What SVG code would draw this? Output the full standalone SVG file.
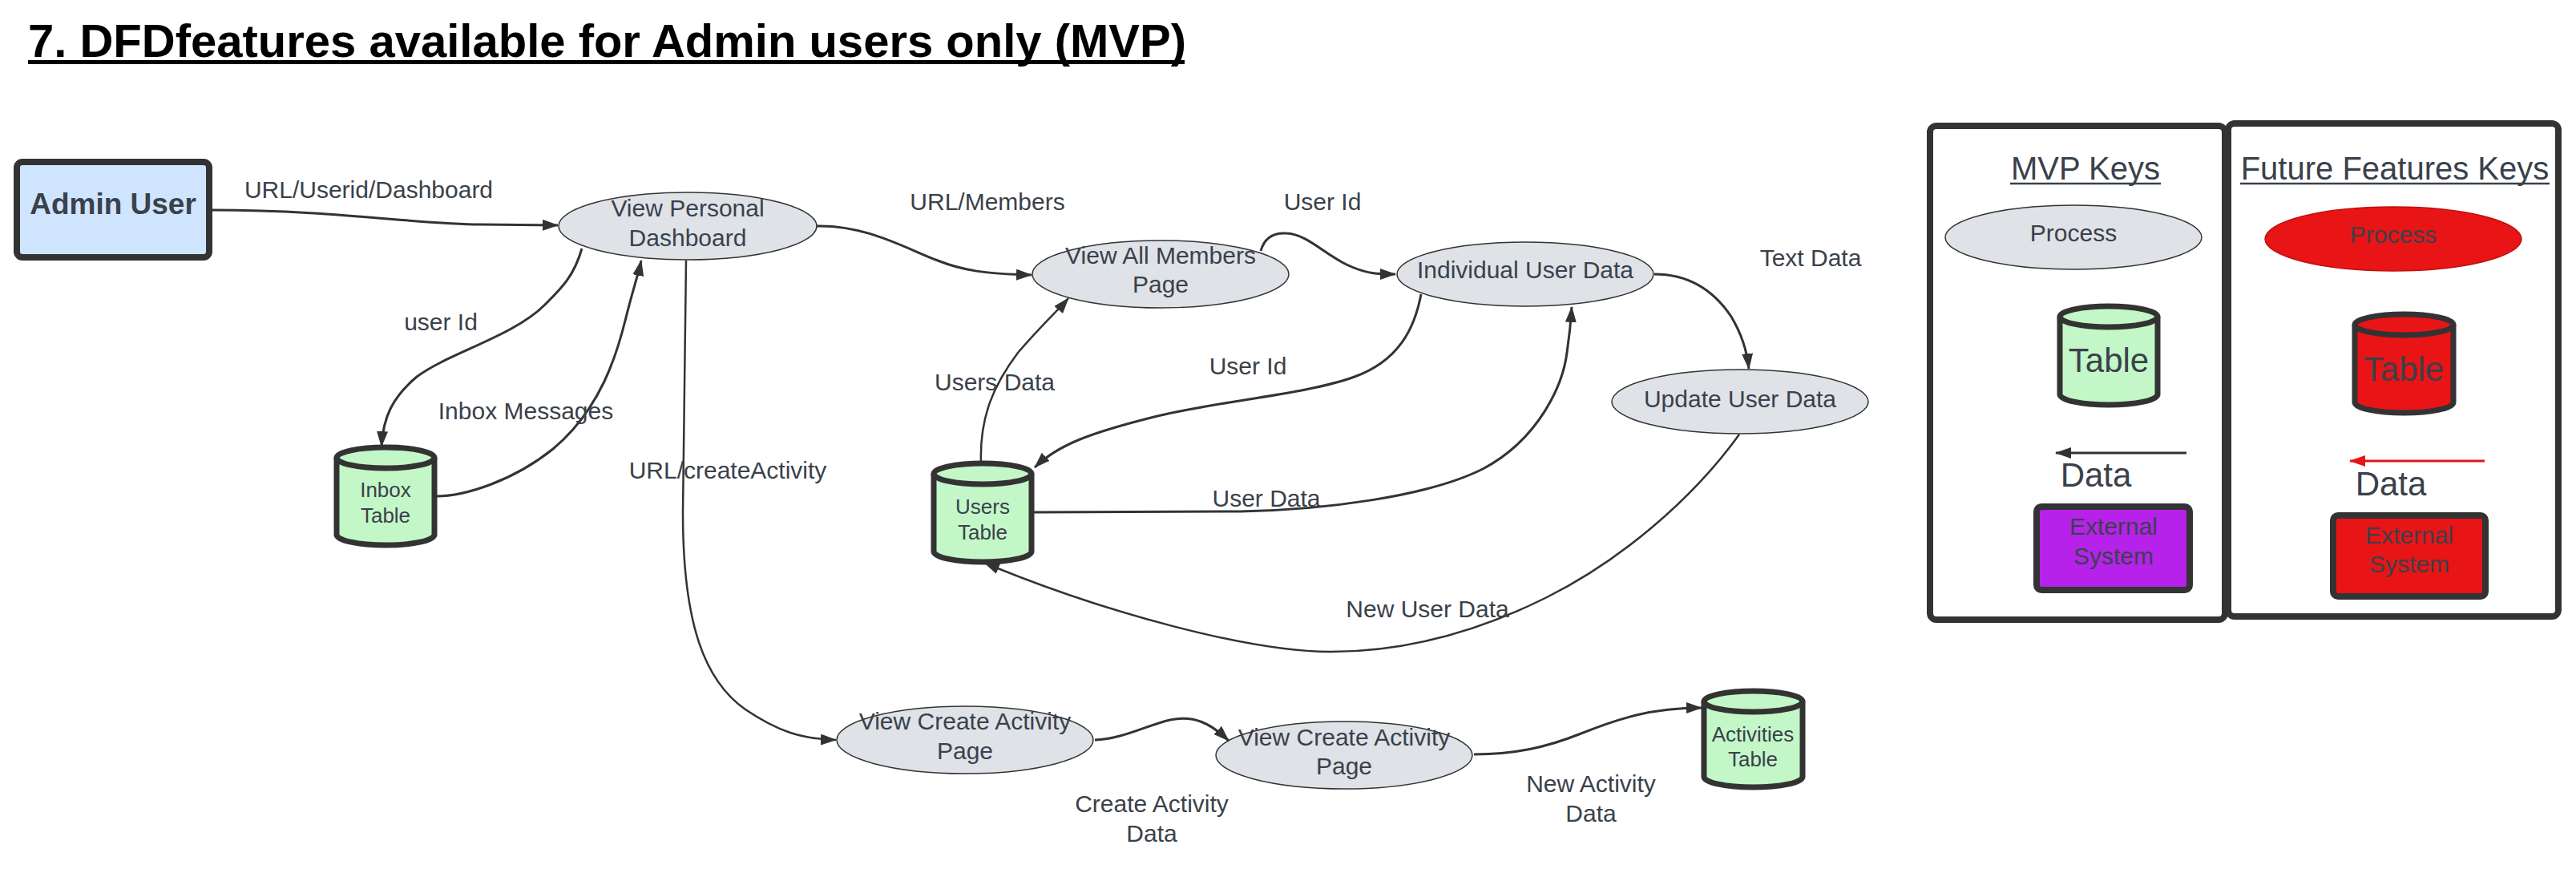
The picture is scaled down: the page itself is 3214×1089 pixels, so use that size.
<svg xmlns="http://www.w3.org/2000/svg" width="3214" height="1089" viewBox="0 0 3214 1089">
<style>
  text { font-family: "Liberation Sans", Arial, sans-serif; fill: #3a414a; }
  .lbl { font-size: 30px; text-anchor: middle; }
  .node { font-size: 30px; text-anchor: middle; }
  .cyl-t { font-size: 26px; text-anchor: middle; }
  .proc { fill: #dfe2e7; stroke: #333333; stroke-width: 1.5; }
  .cyl { fill: #c3f7c8; stroke: #333333; stroke-width: 7; }
  .edge { fill: none; stroke: #333333; stroke-width: 3; marker-end: url(#arr); }
  .key { fill: none; stroke: #333333; stroke-width: 8; }
</style>
<defs>
  <marker id="arr" viewBox="0 0 20 14" refX="19" refY="7" markerWidth="20" markerHeight="14" markerUnits="userSpaceOnUse" orient="auto">
    <path d="M0,0 L20,7 L0,14 z" fill="#333333"/>
  </marker>
  <marker id="arrRed" viewBox="0 0 20 14" refX="19" refY="7" markerWidth="20" markerHeight="14" markerUnits="userSpaceOnUse" orient="auto">
    <path d="M0,0 L20,7 L0,14 z" fill="#e81416"/>
  </marker>
</defs>
<rect width="3214" height="1089" fill="#ffffff"/>

<g id="title">
  <text x="35" y="71" style="font-size:58px;font-weight:bold;fill:#000000">7. DFDfeatures available for Admin users only (MVP)</text>
  <line x1="35" y1="77.5" x2="1478" y2="77.5" stroke="#000000" stroke-width="5"/>
</g>

<g id="connectors">
  <path class="edge" d="M265,262 C420,262 520,280 600,280 L696,281"/>
  <path class="edge" d="M726,310 C716,345 700,360 680,380 C640,420 560,440 520,470 C490,495 478,520 476,557"/>
  <path class="edge" d="M544,619 C580,619 640,600 690,560 C750,510 770,440 780,400 C790,360 797,340 800,325"/>
  <path class="edge" style="stroke-width:2.5" d="M856,325 L852,640 C852,780 880,850 930,885 C970,912 1000,922 1043,923"/>
  <path class="edge" d="M1018,282 C1080,280 1130,310 1170,325 C1200,337 1230,342 1287,343"/>
  <path class="edge" d="M1573,313 C1578,295 1590,290 1605,291 C1630,292 1650,315 1680,330 C1705,342 1720,342 1741,342"/>
  <path class="edge" d="M1773,367 C1765,410 1745,450 1690,470 C1630,492 1520,500 1440,520 C1360,540 1320,555 1291,583"/>
  <path class="edge" d="M1289,639 L1548,638 C1650,636 1780,620 1850,585 C1920,548 1950,480 1955,440 C1958,420 1960,400 1961,383"/>
  <path class="edge" d="M2064,342 C2110,342 2140,365 2160,395 C2175,420 2180,440 2182,460"/>
  <path class="edge" style="stroke-width:2.5" d="M2170,542 C2110,625 2020,700 1930,745 C1850,785 1760,813 1660,813 C1560,813 1380,765 1228,702"/>
  <path class="edge" style="stroke-width:2.5" d="M1224,577 C1222,520 1240,480 1270,440 C1300,405 1322,385 1333,372"/>
  <path class="edge" d="M1366,923 C1400,922 1430,905 1460,898 C1490,892 1510,902 1533,924"/>
  <path class="edge" d="M1839,941 C1890,941 1930,932 1970,916 C2020,896 2060,883 2123,883"/>
</g>

<g id="edge-labels">
  <text class="lbl" x="460" y="247">URL/Userid/Dashboard</text>
  <text class="lbl" x="550" y="412">user Id</text>
  <text class="lbl" x="656" y="523">Inbox Messages</text>
  <text class="lbl" x="908" y="597">URL/createActivity</text>
  <text class="lbl" x="1232" y="262">URL/Members</text>
  <text class="lbl" x="1650" y="262">User Id</text>
  <text class="lbl" x="2259" y="332">Text Data</text>
  <text class="lbl" x="1557" y="467">User Id</text>
  <text class="lbl" x="1241" y="487">Users Data</text>
  <text class="lbl" x="1580" y="632">User Data</text>
  <text class="lbl" x="1781" y="770">New User Data</text>
  <text class="lbl" x="1437" y="1013">Create Activity</text>
  <text class="lbl" x="1437" y="1050">Data</text>
  <text class="lbl" x="1985" y="988">New Activity</text>
  <text class="lbl" x="1985" y="1025">Data</text>
</g>

<g id="admin-user">
  <rect x="21" y="202" width="240" height="119" rx="7" fill="#cfe4ff" stroke="#333333" stroke-width="8"/>
  <text x="141" y="267" style="font-size:37px;font-weight:bold;text-anchor:middle">Admin User</text>
</g>

<g id="view-personal-dashboard">
  <ellipse class="proc" cx="858" cy="282" rx="161" ry="42"/>
  <text class="node" x="858" y="270">View Personal</text>
  <text class="node" x="858" y="307">Dashboard</text>
</g>

<g id="view-all-members">
  <ellipse class="proc" cx="1448" cy="342" rx="160" ry="42"/>
  <text class="node" x="1448" y="329">View All Members</text>
  <text class="node" x="1448" y="365">Page</text>
</g>

<g id="individual-user-data">
  <ellipse class="proc" cx="1903" cy="342" rx="160" ry="40"/>
  <text class="node" x="1903" y="347">Individual User Data</text>
</g>

<g id="update-user-data">
  <ellipse class="proc" cx="2171" cy="501" rx="160" ry="40"/>
  <text class="node" x="2171" y="508">Update User Data</text>
</g>

<g id="view-create-activity-1">
  <ellipse class="proc" cx="1204" cy="923" rx="160" ry="42"/>
  <text class="node" x="1204" y="910">View Create Activity</text>
  <text class="node" x="1204" y="947">Page</text>
</g>

<g id="view-create-activity-2">
  <ellipse class="proc" cx="1677" cy="942" rx="160" ry="42"/>
  <text class="node" x="1677" y="930">View Create Activity</text>
  <text class="node" x="1677" y="966">Page</text>
</g>

<g id="inbox-table">
  <path class="cyl" d="M420,571 A61,13 0 0 1 542,571 L542,667 A61,13 0 0 1 420,667 Z"/>
  <path class="cyl" style="fill:none" d="M420,571 A61,13 0 0 0 542,571"/>
  <text class="cyl-t" x="481" y="620">Inbox</text>
  <text class="cyl-t" x="481" y="652">Table</text>
</g>

<g id="users-table">
  <path class="cyl" d="M1165,591 A61,13 0 0 1 1287,591 L1287,688 A61,13 0 0 1 1165,688 Z"/>
  <path class="cyl" style="fill:none" d="M1165,591 A61,13 0 0 0 1287,591"/>
  <text class="cyl-t" x="1226" y="641">Users</text>
  <text class="cyl-t" x="1226" y="673">Table</text>
</g>

<g id="activities-table">
  <path class="cyl" d="M2126,875 A61.5,13 0 0 1 2249,875 L2249,969 A61.5,13 0 0 1 2126,969 Z"/>
  <path class="cyl" style="fill:none" d="M2126,875 A61.5,13 0 0 0 2249,875"/>
  <text class="cyl-t" x="2187" y="925">Activities</text>
  <text class="cyl-t" x="2187" y="956">Table</text>
</g>

<g id="mvp-keys">
  <rect class="key" x="2408" y="157" width="368" height="616" rx="8"/>
  <text x="2602" y="224" style="font-size:40px;text-anchor:middle">MVP Keys</text>
  <line x1="2508" y1="229" x2="2696" y2="229" stroke="#3a414a" stroke-width="2.5"/>
  <ellipse class="proc" cx="2587" cy="296" rx="160" ry="40"/>
  <text class="node" x="2587" y="301">Process</text>
  <path class="cyl" d="M2570,395 A61,13 0 0 1 2692,395 L2692,492 A61,13 0 0 1 2570,492 Z"/>
  <path class="cyl" style="fill:none" d="M2570,395 A61,13 0 0 0 2692,395"/>
  <text x="2631" y="464" style="font-size:42px;text-anchor:middle">Table</text>
  <path d="M2728,565 L2565,565" fill="none" stroke="#333333" stroke-width="3" marker-end="url(#arr)"/>
  <text x="2615" y="607" style="font-size:42px;text-anchor:middle">Data</text>
  <rect x="2541" y="632" width="191" height="104" rx="6" fill="#b622ea" stroke="#333333" stroke-width="8"/>
  <text class="node" x="2637" y="667">External</text>
  <text class="node" x="2637" y="704">System</text>
</g>

<g id="future-features-keys">
  <rect class="key" x="2780" y="154" width="412" height="615" rx="8"/>
  <text x="2988" y="224" style="font-size:40px;text-anchor:middle">Future Features Keys</text>
  <line x1="2795" y1="229" x2="3181" y2="229" stroke="#3a414a" stroke-width="2.5"/>
  <ellipse cx="2986" cy="298" rx="160" ry="40" fill="#e81416" stroke="#c01010" stroke-width="1.5"/>
  <text class="node" x="2986" y="303">Process</text>
  <path class="cyl" style="fill:#e81416" d="M2938,405 A61.5,13 0 0 1 3061,405 L3061,502 A61.5,13 0 0 1 2938,502 Z"/>
  <path class="cyl" style="fill:none" d="M2938,405 A61.5,13 0 0 0 3061,405"/>
  <text x="2999" y="475" style="font-size:42px;text-anchor:middle">Table</text>
  <path d="M3100,575 L2932,575" fill="none" stroke="#e81416" stroke-width="3" marker-end="url(#arrRed)"/>
  <text x="2983" y="618" style="font-size:42px;text-anchor:middle">Data</text>
  <rect x="2911" y="643" width="190" height="101" rx="6" fill="#e81416" stroke="#333333" stroke-width="8"/>
  <text class="node" x="3006" y="678">External</text>
  <text class="node" x="3006" y="714">System</text>
</g>
</svg>
